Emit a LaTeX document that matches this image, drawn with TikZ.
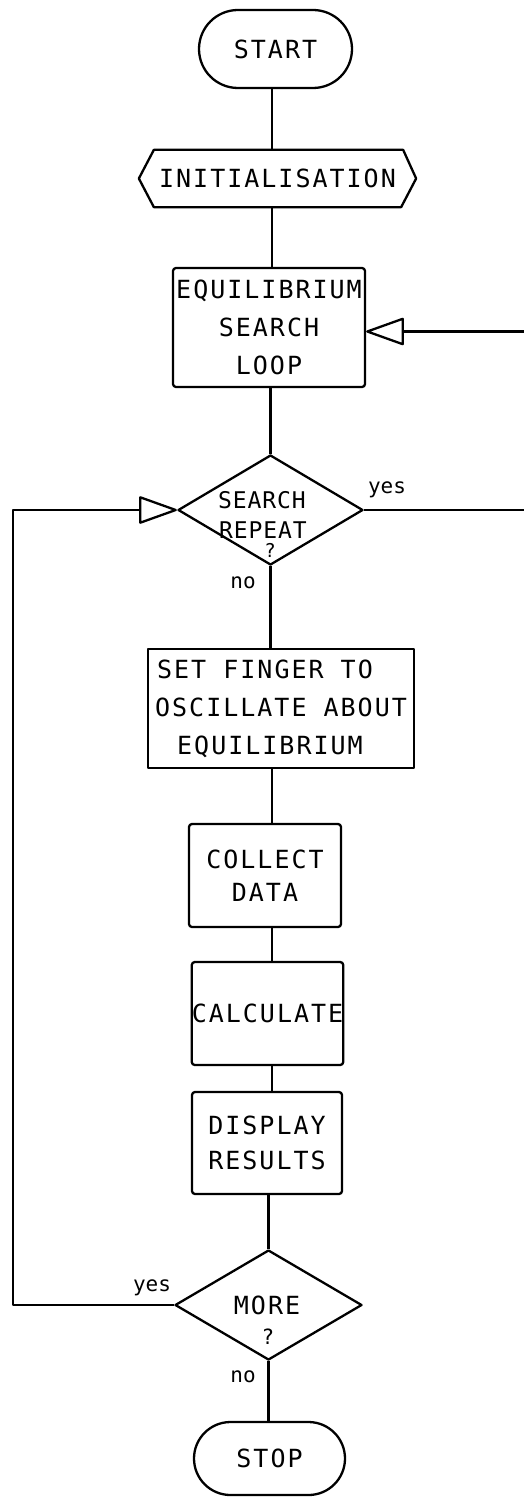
\documentclass[tikz,border=0pt]{standalone}
\usepackage{fontspec}
\usetikzlibrary{shapes.geometric,shapes.misc,arrows.meta}
\newfontfamily\plotfont[LetterSpace=8]{DejaVu Sans Mono}
\newfontfamily\plotfontb[LetterSpace=4]{DejaVu Sans Mono}
\newfontfamily\plotfontn{DejaVu Sans Mono}
\begin{document}
\begin{tikzpicture}[x=1pt,y=-1pt,line width=2.3pt,line join=round,
  every node/.style={inner sep=0pt,font=\plotfont\fontsize{25}{38}\selectfont},
  term/.style={draw,rounded rectangle},
  procbox/.style={draw,rectangle,rounded corners=3pt,align=center},
  plainbox/.style={draw,rectangle,align=center},
  dia/.style={draw,diamond},
  lbl/.style={font=\plotfontn\fontsize{21}{24}\selectfont},
  tri/.style={-{Triangle[open,length=40pt,width=28pt,round]}}]
\useasboundingbox (0,0) rectangle (524,1498);
\clip (0,0) rectangle (524,1498);
\coordinate (spine) at (272,0);
\coordinate (rx) at (530,0);
\coordinate (lx) at (13,0);

\node[term,minimum width=153pt,minimum height=78pt] (start) at (275.5,49) {START};
\node[minimum width=275pt,minimum height=55pt] (init) at (277.5,178.5) {INITIALISATION};
\draw (init.west) -- ([xshift=15pt]init.north west) -- ([xshift=-13pt]init.north east)
  -- (init.east) -- ([xshift=-15pt]init.south east) -- ([xshift=15pt]init.south west) -- cycle;
\node[procbox,minimum width=192pt,minimum height=119pt] (eq) at (269,327.5) {EQUILIBRIUM\\SEARCH\\LOOP};

\node[dia,minimum width=185pt,minimum height=110pt] (d1) at (270.5,510) {};
\node[font=\plotfontb\fontsize{23}{30}\selectfont] (d1a) at (262,500) {SEARCH};
\node[font=\plotfontb\fontsize{23}{30}\selectfont] (d1b) at (263,530) {REPEAT};
\node[font=\plotfontn\fontsize{19}{22}\selectfont] (d1q) at (270,550) {?};
\node[lbl] (yes1) at (387,490) {yes};
\node[lbl] (no1) at (243,583) {no};

\node[plainbox,minimum width=266pt,minimum height=119pt] (set) at (281,708.5)
  {SET FINGER TO\rule{32pt}{0pt}\\OSCILLATE ABOUT\\EQUILIBRIUM\rule{22pt}{0pt}};
\node[procbox,minimum width=152pt,minimum height=103pt,font=\plotfont\fontsize{25}{33}\selectfont] (collect) at (265,875.5) {COLLECT\\DATA};
\node[procbox,minimum width=151pt,minimum height=103pt] (calc) at (267.5,1013.5) {CALCULATE};
\node[procbox,minimum width=150pt,minimum height=102pt,font=\plotfont\fontsize{25}{35}\selectfont] (disp) at (267,1143) {DISPLAY\\RESULTS};

\node[dia,minimum width=187pt,minimum height=110pt] (d2) at (268.5,1305) {};
\node (d2a) at (267,1305) {MORE};
\node[font=\plotfontn\fontsize{21}{24}\selectfont] (d2q) at (268,1337) {?};
\node[lbl] (yes2) at (152,1288) {yes};
\node[lbl] (no2) at (243,1377) {no};

\node[term,minimum width=151pt,minimum height=73pt] (stop) at (269.5,1458.5) {STOP};

% connectors
\draw (start.south -| spine) -- (init.north -| spine);
\draw (init.south -| spine) -- (eq.north -| spine);
\draw (eq.south -| d1.north) -- (d1.north);
\draw (d1.south) -- (d1.south |- set.north);
\draw (set.south -| spine) -- (collect.north -| spine);
\draw (collect.south -| spine) -- (calc.north -| spine);
\draw (calc.south -| spine) -- (disp.north -| spine);
\draw (disp.south -| d2.north) -- (d2.north);
\draw (d2.south) -- (d2.south |- stop.north);

\draw[tri] (d1.east) -- (d1.east -| rx) |- ([yshift=-4pt]eq.east);
\draw[tri] (d2.west) -- (d2.west -| lx) |- (d1.west);
\end{tikzpicture}
\end{document}
